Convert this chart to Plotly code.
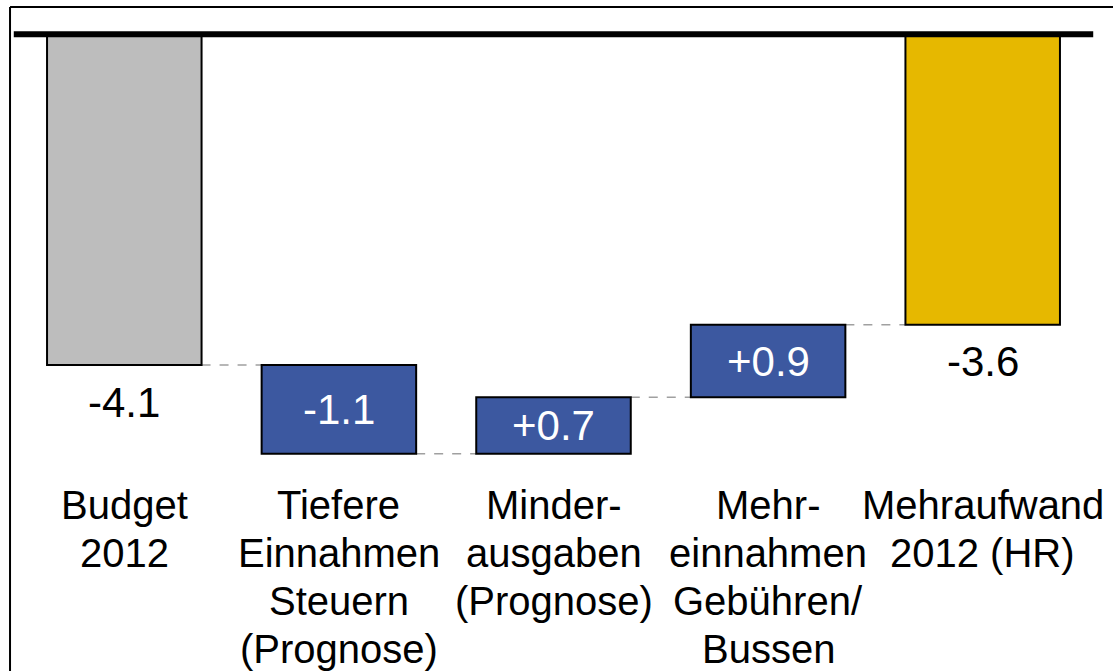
import plotly.graph_objects as go

categories = ["Budget<br>2012", "Tiefere<br>Einnahmen<br>Steuern<br>(Prognose)",
              "Minder-<br>ausgaben<br>(Prognose)", "Mehr-<br>einnahmen<br>Gebühren/<br>Bussen",
              "Mehraufwand<br>2012 (HR)"]
values = [-4.1, -1.1, 0.7, 0.9, -3.6]
measures = ["absolute", "relative", "relative", "relative", "total"]
value_labels = ["-4.1", "-1.1", "+0.7", "+0.9", "-3.6"]
colors = ["#BDBDBD", "#3C58A0", "#3C58A0", "#3C58A0", "#E6B800"]

# compute waterfall bases
bases, ends = [], []
running = 0.0
for v, m in zip(values, measures):
    if m in ("absolute", "total"):
        b = 0.0
        running = v
    else:
        b = running
        running = running + v
    bases.append(b)
    ends.append(b + v)

FONT = "Arial, Liberation Sans, sans-serif"
BAR_W = 0.72
W, H = 1113, 671
ML, MR, MT, MB = 17, 23, 10, 193
PLOT_H = H - MT - MB

fig = go.Figure()
fig.add_trace(go.Bar(
    x=list(range(len(values))), y=values, base=bases, width=BAR_W,
    marker=dict(color=colors, line=dict(color="black", width=2)),
    hoverinfo="skip", showlegend=False,
))

shapes = []
# connectors
for i in range(len(values) - 1):
    level = ends[i]
    shapes.append(dict(type="line", xref="x", yref="y",
                       x0=i + BAR_W / 2, x1=i + 1 - BAR_W / 2, y0=level, y1=level,
                       line=dict(color="#A0A0A0", width=1.5, dash="dash"), layer="below"))
# zero line
shapes.append(dict(type="line", xref="paper", yref="y", x0=-0.003, x1=1.003, y0=0, y1=0,
                   line=dict(color="black", width=6)))
# frame
shapes.append(dict(type="line", xref="paper", yref="paper", x0=-0.0065, x1=-0.0065,
                   y0=1.0064, y1=-0.6, line=dict(color="black", width=2)))
shapes.append(dict(type="line", xref="paper", yref="paper", x0=-0.0065, x1=1.1,
                   y0=1.0064, y1=1.0064, line=dict(color="black", width=2)))

annotations = []
for i, (v, m, lbl) in enumerate(zip(values, measures, value_labels)):
    if m == "relative":
        annotations.append(dict(x=i, y=bases[i] + v / 2, xref="x", yref="y", text=lbl,
                                showarrow=False, font=dict(family=FONT, size=42, color="white"),
                                yanchor="middle"))
    else:
        annotations.append(dict(x=i, y=ends[i], xref="x", yref="y", text=lbl,
                                showarrow=False, font=dict(family=FONT, size=42, color="black"),
                                yanchor="middle", yshift=-37))

# category labels, one annotation per line
LINE0_PX = 505   # screen y of first line centre
LINE_STEP = 48
for i, cat in enumerate(categories):
    for j, line in enumerate(cat.split("<br>")):
        y_px = LINE0_PX + LINE_STEP * j
        y_paper = 1 - (y_px - MT) / PLOT_H
        annotations.append(dict(x=i, y=y_paper, xref="x", yref="paper", text=line,
                                showarrow=False, font=dict(family=FONT, size=40, color="black"),
                                yanchor="middle"))

fig.update_layout(
    width=W, height=H,
    margin=dict(l=ML, r=MR, t=MT, b=MB),
    paper_bgcolor="white", plot_bgcolor="white",
    shapes=shapes, annotations=annotations,
    xaxis=dict(range=[-0.5, len(values) - 0.5], showticklabels=False,
               showgrid=False, zeroline=False, showline=False, ticks=""),
    yaxis=dict(range=[-5.5, 0.3], visible=False, showgrid=False, zeroline=False),
)

fig.write_html("out.html", config={"displayModeBar": False},
               post_script="document.body.style.margin='0';document.body.style.overflow='hidden';")
